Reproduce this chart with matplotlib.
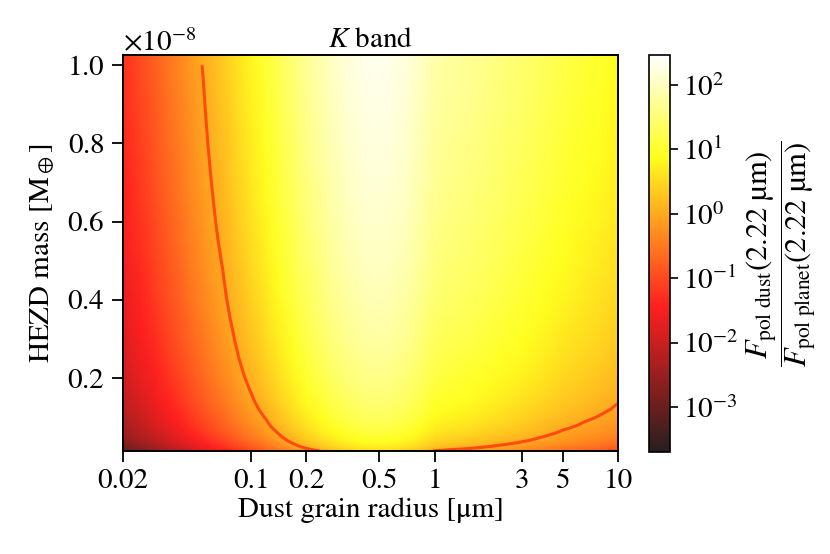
import numpy as np
import matplotlib
matplotlib.use("Agg")
import matplotlib.pyplot as plt
from matplotlib.colors import LogNorm, ListedColormap
from matplotlib.ticker import ScalarFormatter, NullLocator, FixedLocator

plt.rcParams['font.family'] = ['STIXGeneral', 'DejaVu Serif']
plt.rcParams['mathtext.fontset'] = 'stix'

# Dust grain radius [um]
radius = [0.02, 0.025, 0.03, 0.035, 0.04, 0.045, 0.05, 0.055, 0.06, 0.07,
          0.08, 0.09, 0.10, 0.12, 0.14, 0.17, 0.20, 0.24, 0.28, 0.33,
          0.40, 0.47, 0.55, 0.65, 0.75, 0.85, 1.0, 1.2, 1.5, 1.85,
          2.3, 3.0, 4.0, 5.0, 6.5, 8.0, 10.0]
# Flux ratio per 1e-8 Earth masses of dust (top row of the map)
ratio_per_mass = [0.055, 0.10, 0.17, 0.27, 0.40, 0.58, 0.80, 1.05, 1.38, 2.1,
                  3.2, 4.6, 6.2, 10.5, 17, 31, 50, 78, 112, 150,
                  195, 215, 205, 175, 140, 105, 72, 60, 52, 43,
                  35, 27, 19.5, 15, 11.5, 9.5, 7.4]
# HEZD mass grid [1e-8 Earth masses]
mass = [0.0133, 0.015, 0.017, 0.019, 0.022, 0.025, 0.03, 0.035, 0.04, 0.05,
        0.06, 0.07, 0.08, 0.1, 0.12, 0.14, 0.17, 0.2, 0.25, 0.3,
        0.35, 0.4, 0.45, 0.5, 0.55, 0.6, 0.65, 0.7, 0.75, 0.8,
        0.85, 0.9, 0.95, 1.0, 1.026]

r = np.array(radius)
f = np.array(ratio_per_mass)
m = np.array(mass)
Z = np.outer(m, f)
M = m * 1e-8

# 'hot' colour map seen through a slightly transparent layer on white
base = plt.get_cmap('hot')(np.linspace(0, 1, 256))
a = 0.88
base[:, :3] = base[:, :3] * a + (1 - a)
cmap = ListedColormap(base)

fig = plt.figure(figsize=(8.3, 5.54), dpi=100)
ax = fig.add_axes([123/830, 1 - 451/554, 495/830, 396/554])
cax = fig.add_axes([649/830, 1 - 452/554, 21/830, 397/554])

norm = LogNorm(vmin=2e-4, vmax=290)
mesh = ax.pcolormesh(r, M, Z, shading='gouraud', cmap=cmap, norm=norm,
                     rasterized=True)
sel = m <= 1.0
ax.contour(r, M[sel], Z[sel], levels=[1.0], colors=['#ff4a10'], linewidths=2.2)

ax.set_xscale('log')
ax.set_xlim(0.02, 10)
ax.set_ylim(0.0133e-8, 1.026e-8)
xt = [0.02, 0.1, 0.2, 0.5, 1, 3, 5, 10]
ax.xaxis.set_major_locator(FixedLocator(xt))
ax.set_xticklabels(['0.02', '0.1', '0.2', '0.5', '1', '3', '5', '10'])
ax.xaxis.set_minor_locator(NullLocator())
ax.set_yticks([0.2e-8, 0.4e-8, 0.6e-8, 0.8e-8, 1.0e-8])
fmt = ScalarFormatter(useMathText=True)
ax.yaxis.set_major_formatter(fmt)
ax.yaxis.get_offset_text().set_fontsize(21)

ax.tick_params(direction='out', length=8, width=1.3, labelsize=21, pad=5)
for s in ax.spines.values():
    s.set_linewidth(1.4)

ax.set_xlabel('Dust grain radius [μm]', fontsize=21, labelpad=2)
ax.set_ylabel(r'HEZD mass [M$_\oplus$]', fontsize=21, labelpad=8)
ax.set_title(r'$K$ band', fontsize=21, pad=6)

cb = fig.colorbar(mesh, cax=cax)
cb.ax.yaxis.set_minor_locator(NullLocator())
cb.ax.tick_params(direction='out', length=6, width=1.2, labelsize=21)
cb.outline.set_linewidth(1.2)
cb.set_label(r'$\dfrac{F_{\mathrm{pol\ dust}}(2.22\ \mathrm{µm})}'
             r'{F_{\mathrm{pol\ planet}}(2.22\ \mathrm{µm})}$',
             fontsize=22, labelpad=4)

fig.savefig('out.png', dpi=100)
